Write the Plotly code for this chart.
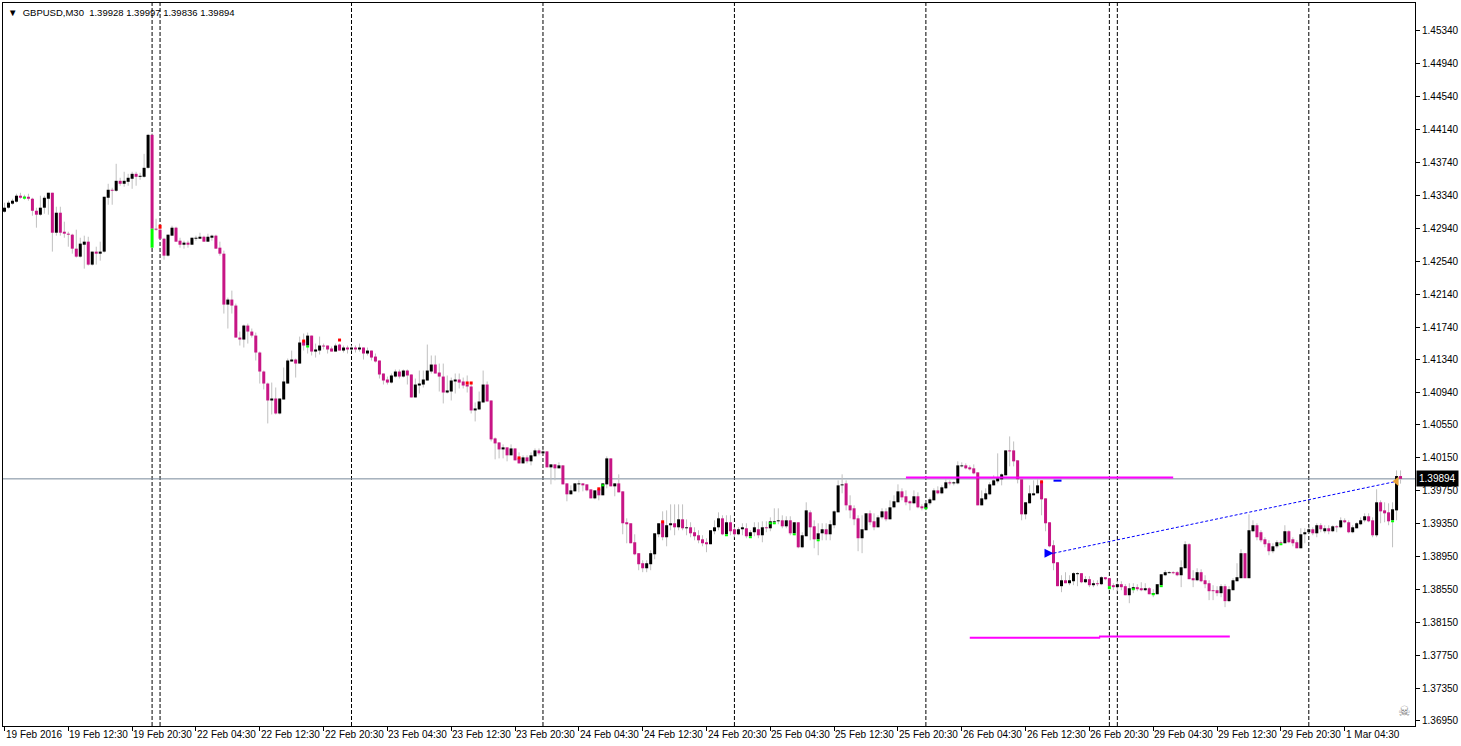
import plotly.graph_objects as go

# ---------------- data (GBPUSD M30, bars 0..350) ----------------
opens = [
1.43142,1.43191,1.43240,1.43264,1.43337,1.43312,1.43324,1.43300,1.43154,1.43106,
1.43191,1.43300,1.43373,1.42887,1.43130,1.42899,1.42875,1.42863,1.42693,1.42596,
1.42741,1.42778,1.42499,1.42657,1.42632,1.42657,1.43312,1.43409,1.43397,1.43518,
1.43482,1.43506,1.43543,1.43603,1.43567,1.43567,1.43676,1.44077,1.42936,1.42924,
1.42814,1.42608,1.42851,1.42948,1.42790,1.42741,1.42766,1.42741,1.42814,1.42814,
1.42838,1.42778,1.42826,1.42851,1.42705,1.42632,1.42013,1.42074,1.42001,1.41612,
1.41588,1.41758,1.41685,1.41636,1.41430,1.41199,1.41053,1.40847,1.40871,1.40689,
1.40859,1.41053,1.41321,1.41345,1.41296,1.41564,1.41515,1.41636,1.41442,1.41454,
1.41515,1.41515,1.41479,1.41442,1.41527,1.41454,1.41491,1.41467,1.41491,1.41467,
1.41491,1.41418,1.41454,1.41381,1.41333,1.41175,1.41102,1.41065,1.41138,1.41199,
1.41138,1.41211,1.41163,1.40884,1.41029,1.41041,1.41090,1.41199,1.41284,1.41187,
1.41138,1.40944,1.40956,1.41078,1.41102,1.41078,1.41041,1.41017,1.40726,1.40738,
1.40823,1.41041,1.40847,1.40386,1.40337,1.40252,1.40277,1.40180,1.40264,1.40143,
1.40082,1.40155,1.40107,1.40168,1.40240,1.40204,1.40228,1.40034,1.40070,1.40022,
1.40058,1.39839,1.39706,1.39742,1.39827,1.39839,1.39827,1.39766,1.39657,1.39766,
1.39694,1.39827,1.40143,1.39803,1.39839,1.39742,1.39366,1.39354,1.39123,1.38990,
1.38868,1.38807,1.38856,1.38977,1.39220,1.39366,1.39184,1.39330,1.39354,1.39305,
1.39402,1.39293,1.39305,1.39245,1.39208,1.39159,1.39123,1.39099,1.39257,1.39305,
1.39414,1.39220,1.39366,1.39281,1.39220,1.39281,1.39293,1.39196,1.39245,1.39281,
1.39208,1.39305,1.39293,1.39366,1.39378,1.39390,1.39317,1.39390,1.39232,1.39366,
1.39062,1.39196,1.39487,1.39317,1.39159,1.39232,1.39281,1.39220,1.39330,1.39487,
1.39815,1.39839,1.39572,1.39536,1.39414,1.39172,1.39269,1.39475,1.39378,1.39305,
1.39426,1.39499,1.39402,1.39548,1.39609,1.39742,1.39682,1.39621,1.39597,1.39682,
1.39560,1.39536,1.39597,1.39633,1.39754,1.39718,1.39779,1.39852,1.39839,1.39839,
1.40046,1.40058,1.40034,1.40022,1.39973,1.39572,1.39645,1.39706,1.39815,1.39864,
1.39888,1.39937,1.40240,1.40240,1.40119,1.39888,1.39463,1.39597,1.39694,1.39718,
1.39852,1.39657,1.39366,1.39087,1.38880,1.38589,1.38661,1.38625,1.38649,1.38735,
1.38747,1.38637,1.38674,1.38601,1.38625,1.38613,1.38698,1.38686,1.38601,1.38577,
1.38613,1.38589,1.38479,1.38552,1.38577,1.38564,1.38540,1.38564,1.38491,1.38491,
1.38601,1.38722,1.38747,1.38759,1.38759,1.38722,1.38807,1.39099,1.38686,1.38661,
1.38759,1.38661,1.38625,1.38540,1.38540,1.38504,1.38589,1.38407,1.38540,1.38649,
1.38686,1.38990,1.38686,1.39257,1.39330,1.39245,1.39159,1.39111,1.39014,1.39074,
1.39123,1.39111,1.39257,1.39159,1.39123,1.39050,1.39220,1.39245,1.39281,1.39232,
1.39330,1.39257,1.39293,1.39257,1.39317,1.39305,1.39390,1.39366,1.39245,1.39293,
1.39342,1.39390,1.39439,1.39390,1.39208,1.39609,1.39511,1.39487,1.39390,1.39511,
1.39928]

highs = [
1.43252,1.43276,1.43300,1.43361,1.43373,1.43349,1.43361,1.43312,1.43191,1.43337,
1.43337,1.43373,1.43373,1.43203,1.43203,1.43021,1.42899,1.42875,1.42924,1.42826,
1.42851,1.42838,1.42657,1.42717,1.42778,1.43324,1.43482,1.43434,1.43725,1.43555,
1.43628,1.43603,1.43628,1.43628,1.43616,1.43846,1.44089,1.44101,1.43057,1.42984,
1.42826,1.42863,1.42972,1.42960,1.42826,1.42790,1.42790,1.42826,1.42851,1.42887,
1.42851,1.42875,1.42863,1.42863,1.42778,1.42669,1.42098,1.42183,1.42025,1.41685,
1.41770,1.41782,1.41722,1.41673,1.41442,1.41211,1.41065,1.41065,1.41005,1.40871,
1.41248,1.41357,1.41454,1.41357,1.41624,1.41661,1.41673,1.41636,1.41539,1.41624,
1.41539,1.41515,1.41503,1.41539,1.41539,1.41515,1.41515,1.41515,1.41515,1.41539,
1.41491,1.41491,1.41454,1.41418,1.41333,1.41175,1.41138,1.41175,1.41224,1.41224,
1.41224,1.41224,1.41163,1.41114,1.41211,1.41211,1.41527,1.41394,1.41394,1.41296,
1.41296,1.41151,1.41126,1.41175,1.41175,1.41126,1.41151,1.41053,1.40823,1.40956,
1.41211,1.41078,1.40847,1.40398,1.40337,1.40313,1.40277,1.40313,1.40264,1.40216,
1.40180,1.40180,1.40216,1.40264,1.40264,1.40252,1.40228,1.40070,1.40070,1.40095,
1.40058,1.39839,1.39815,1.39839,1.39876,1.39839,1.39827,1.39766,1.39754,1.39766,
1.39839,1.40167,1.40143,1.39839,1.39949,1.39742,1.39414,1.39354,1.39220,1.38990,
1.38904,1.38904,1.39026,1.39232,1.39354,1.39499,1.39511,1.39584,1.39584,1.39584,
1.39584,1.39402,1.39366,1.39305,1.39269,1.39208,1.39172,1.39269,1.39390,1.39487,
1.39451,1.39451,1.39451,1.39305,1.39305,1.39354,1.39354,1.39269,1.39366,1.39366,
1.39378,1.39378,1.39426,1.39536,1.39536,1.39451,1.39439,1.39439,1.39366,1.39366,
1.39245,1.39609,1.39511,1.39390,1.39354,1.39354,1.39354,1.39390,1.39511,1.39876,
1.39949,1.39876,1.39694,1.39572,1.39451,1.39451,1.39475,1.39511,1.39475,1.39451,
1.39536,1.39536,1.39633,1.39694,1.39827,1.39779,1.39754,1.39633,1.39754,1.39730,
1.39584,1.39633,1.39669,1.39779,1.39803,1.39815,1.39888,1.39876,1.39864,1.40107,
1.40095,1.40082,1.40058,1.40070,1.39973,1.39754,1.39779,1.39852,1.39937,1.40204,
1.39961,1.40240,1.40410,1.40349,1.40119,1.39888,1.39609,1.39815,1.39876,1.39888,
1.39876,1.39657,1.39366,1.39147,1.38880,1.38722,1.38759,1.38722,1.38759,1.38759,
1.38747,1.38710,1.38710,1.38661,1.38661,1.38710,1.38698,1.38686,1.38625,1.38649,
1.38649,1.38613,1.38625,1.38625,1.38613,1.38637,1.38625,1.38577,1.38552,1.38613,
1.38734,1.38783,1.38771,1.38771,1.38771,1.38904,1.39135,1.39111,1.38783,1.38807,
1.38795,1.38722,1.38661,1.38601,1.38589,1.38613,1.38613,1.38589,1.38686,1.38868,
1.39038,1.38990,1.39463,1.39390,1.39354,1.39269,1.39184,1.39147,1.39111,1.39147,
1.39147,1.39330,1.39269,1.39184,1.39147,1.39293,1.39293,1.39305,1.39305,1.39354,
1.39354,1.39330,1.39330,1.39330,1.39330,1.39426,1.39414,1.39390,1.39330,1.39366,
1.39426,1.39475,1.39475,1.39426,1.39767,1.39633,1.39609,1.39597,1.39609,1.39997,
1.39997]

lows = [
1.43130,1.43179,1.43227,1.43252,1.43300,1.43288,1.43276,1.43093,1.42948,1.43093,
1.43118,1.43106,1.42657,1.42851,1.42851,1.42826,1.42717,1.42632,1.42584,1.42584,
1.42450,1.42487,1.42487,1.42499,1.42547,1.42645,1.43227,1.43227,1.43385,1.43458,
1.43446,1.43458,1.43421,1.43458,1.43531,1.43555,1.43664,1.42705,1.42911,1.42802,
1.42559,1.42596,1.42851,1.42778,1.42705,1.42693,1.42705,1.42741,1.42790,1.42814,
1.42778,1.42778,1.42790,1.42693,1.42608,1.41904,1.41722,1.41904,1.41612,1.41515,
1.41491,1.41539,1.41612,1.41333,1.41053,1.40981,1.40568,1.40677,1.40677,1.40677,
1.40859,1.41053,1.41321,1.41126,1.41296,1.41454,1.41418,1.41394,1.41369,1.41406,
1.41467,1.41418,1.41442,1.41442,1.41454,1.41430,1.41418,1.41454,1.41430,1.41442,
1.41345,1.41394,1.41333,1.41309,1.41114,1.41041,1.41041,1.41053,1.41126,1.41114,
1.41126,1.41041,1.40884,1.40884,1.40932,1.41005,1.41090,1.41175,1.41175,1.40956,
1.40811,1.40932,1.40847,1.40932,1.40993,1.40993,1.40944,1.40689,1.40592,1.40738,
1.40823,1.40835,1.40349,1.40131,1.40143,1.40143,1.40107,1.40180,1.40119,1.40082,
1.40082,1.40082,1.40058,1.40168,1.40180,1.40192,1.40034,1.39827,1.39876,1.40022,
1.39827,1.39621,1.39706,1.39742,1.39730,1.39742,1.39742,1.39657,1.39645,1.39633,
1.39694,1.39779,1.39803,1.39682,1.39730,1.39220,1.39111,1.39111,1.38965,1.38783,
1.38759,1.38759,1.38783,1.38917,1.39184,1.39147,1.39074,1.39269,1.39208,1.39269,
1.39269,1.39208,1.39184,1.39147,1.39111,1.39074,1.39002,1.39099,1.39220,1.39269,
1.39208,1.39208,1.39208,1.39184,1.39208,1.39208,1.39172,1.39184,1.39196,1.39172,
1.39123,1.39245,1.39257,1.39342,1.39342,1.39293,1.39293,1.39208,1.39208,1.39050,
1.39050,1.39196,1.39147,1.39050,1.38965,1.39147,1.39147,1.39147,1.39293,1.39487,
1.39718,1.39511,1.39414,1.39330,1.39014,1.38990,1.39269,1.39330,1.39269,1.39305,
1.39402,1.39378,1.39402,1.39536,1.39609,1.39633,1.39572,1.39511,1.39584,1.39536,
1.39511,1.39511,1.39572,1.39633,1.39706,1.39706,1.39767,1.39815,1.39815,1.39827,
1.40034,1.40010,1.39997,1.39949,1.39572,1.39572,1.39633,1.39694,1.39815,1.39839,
1.39815,1.39937,1.40046,1.40046,1.39839,1.39390,1.39402,1.39597,1.39694,1.39718,
1.39451,1.39257,1.39062,1.38783,1.38589,1.38516,1.38625,1.38601,1.38601,1.38589,
1.38625,1.38625,1.38577,1.38577,1.38589,1.38601,1.38661,1.38552,1.38540,1.38528,
1.38540,1.38479,1.38382,1.38504,1.38528,1.38528,1.38528,1.38491,1.38455,1.38491,
1.38601,1.38710,1.38747,1.38734,1.38710,1.38577,1.38807,1.38674,1.38577,1.38649,
1.38637,1.38564,1.38419,1.38419,1.38467,1.38455,1.38334,1.38394,1.38540,1.38649,
1.38686,1.38686,1.38686,1.39245,1.39147,1.39123,1.39062,1.38965,1.38990,1.39050,
1.39087,1.39111,1.39111,1.39074,1.39050,1.39050,1.39111,1.39232,1.39208,1.39184,
1.39245,1.39232,1.39220,1.39245,1.39245,1.39293,1.39354,1.39232,1.39232,1.39293,
1.39330,1.39366,1.39366,1.39184,1.39184,1.39354,1.39366,1.39330,1.39062,1.39390,
1.39836]

closes = [
1.43191,1.43252,1.43276,1.43337,1.43312,1.43324,1.43300,1.43154,1.43106,1.43191,
1.43312,1.43373,1.42887,1.43130,1.42887,1.42875,1.42863,1.42693,1.42596,1.42754,
1.42778,1.42499,1.42657,1.42632,1.42657,1.43324,1.43409,1.43397,1.43518,1.43482,
1.43518,1.43555,1.43603,1.43567,1.43579,1.43676,1.44077,1.42936,1.42924,1.42814,
1.42608,1.42863,1.42948,1.42778,1.42741,1.42766,1.42741,1.42826,1.42826,1.42838,
1.42778,1.42838,1.42851,1.42693,1.42632,1.42013,1.42074,1.42001,1.41612,1.41588,
1.41758,1.41685,1.41636,1.41430,1.41199,1.41053,1.40847,1.40871,1.40689,1.40871,
1.41078,1.41333,1.41345,1.41296,1.41552,1.41515,1.41636,1.41442,1.41467,1.41515,
1.41503,1.41467,1.41442,1.41515,1.41454,1.41491,1.41467,1.41491,1.41467,1.41491,
1.41418,1.41454,1.41369,1.41321,1.41163,1.41090,1.41065,1.41151,1.41199,1.41138,
1.41211,1.41151,1.40884,1.41041,1.41053,1.41102,1.41211,1.41284,1.41175,1.41138,
1.40944,1.40969,1.41090,1.41102,1.41065,1.41029,1.41017,1.40726,1.40750,1.40835,
1.41041,1.40835,1.40374,1.40325,1.40252,1.40277,1.40180,1.40264,1.40119,1.40082,
1.40155,1.40107,1.40180,1.40240,1.40204,1.40228,1.40034,1.40070,1.40022,1.40058,
1.39827,1.39706,1.39754,1.39839,1.39839,1.39815,1.39754,1.39657,1.39754,1.39694,
1.39839,1.40143,1.39803,1.39839,1.39730,1.39354,1.39342,1.39111,1.38977,1.38856,
1.38807,1.38868,1.38990,1.39232,1.39354,1.39184,1.39330,1.39354,1.39305,1.39402,
1.39293,1.39305,1.39232,1.39196,1.39147,1.39111,1.39099,1.39269,1.39305,1.39414,
1.39220,1.39366,1.39257,1.39220,1.39281,1.39305,1.39196,1.39245,1.39305,1.39208,
1.39305,1.39293,1.39378,1.39378,1.39390,1.39317,1.39390,1.39232,1.39366,1.39062,
1.39208,1.39511,1.39305,1.39159,1.39232,1.39281,1.39220,1.39342,1.39499,1.39815,
1.39827,1.39572,1.39511,1.39402,1.39172,1.39281,1.39475,1.39366,1.39305,1.39426,
1.39499,1.39402,1.39548,1.39621,1.39742,1.39669,1.39609,1.39597,1.39682,1.39548,
1.39536,1.39597,1.39645,1.39754,1.39718,1.39791,1.39852,1.39839,1.39852,1.40058,
1.40058,1.40022,1.40010,1.39961,1.39572,1.39657,1.39718,1.39827,1.39876,1.39900,
1.39949,1.40240,1.40228,1.40107,1.39888,1.39463,1.39609,1.39718,1.39718,1.39815,
1.39645,1.39354,1.39074,1.38868,1.38589,1.38661,1.38625,1.38661,1.38747,1.38747,
1.38637,1.38674,1.38601,1.38625,1.38613,1.38698,1.38674,1.38589,1.38577,1.38613,
1.38577,1.38479,1.38564,1.38577,1.38552,1.38540,1.38564,1.38491,1.38504,1.38613,
1.38734,1.38759,1.38759,1.38747,1.38722,1.38819,1.39099,1.38674,1.38661,1.38759,
1.38649,1.38613,1.38528,1.38528,1.38504,1.38589,1.38407,1.38552,1.38661,1.38698,
1.38990,1.38686,1.39269,1.39330,1.39184,1.39147,1.39099,1.39014,1.39074,1.39123,
1.39111,1.39257,1.39123,1.39111,1.39050,1.39220,1.39245,1.39281,1.39232,1.39330,
1.39281,1.39293,1.39257,1.39317,1.39305,1.39390,1.39366,1.39245,1.39305,1.39354,
1.39390,1.39439,1.39378,1.39208,1.39609,1.39499,1.39475,1.39378,1.39524,1.39928,
1.39894]

# time axis labels (every 16 bars)
label_bars = [0, 16, 32, 48, 64, 80, 96, 112, 128, 144, 160, 176, 192, 208, 224,
              240, 256, 272, 288, 304, 320, 336]
label_text = ["19 Feb 2016", "19 Feb 12:30", "19 Feb 20:30", "22 Feb 04:30", "22 Feb 12:30",
              "22 Feb 20:30", "23 Feb 04:30", "23 Feb 12:30", "23 Feb 20:30", "24 Feb 04:30",
              "24 Feb 12:30", "24 Feb 20:30", "25 Feb 04:30", "25 Feb 12:30", "25 Feb 20:30",
              "26 Feb 04:30", "26 Feb 12:30", "26 Feb 20:30", "29 Feb 04:30", "29 Feb 12:30",
              "29 Feb 20:30", "1 Mar 04:30"]
separator_bars = [37, 39, 87, 135, 183, 231, 277, 279, 327]

price_ticks = [1.45340, 1.44940, 1.44540, 1.44140, 1.43740, 1.43340, 1.42940, 1.42540,
               1.42140, 1.41740, 1.41340, 1.40940, 1.40550, 1.40150, 1.39750, 1.39350,
               1.38950, 1.38550, 1.38150, 1.37750, 1.37350, 1.36950]
price_tick_text = ["1.45340", "1.44940", "1.44540", "1.44140", "1.43740", "1.43340", "1.42940",
                   "1.42540", "1.42140", "1.41740", "1.41340", "1.40940", "1.40550", "1.40150",
                   "1.39750", "1.39350", "1.38950", "1.38550", "1.38150", "1.37750", "1.37350",
                   "1.36950"]
bid_price = 1.39894

# magenta horizontal levels
level_start = [226, 242, 274.4]
level_end = [293, 274.7, 307.2]
level_price = [1.39912, 1.37963, 1.37978]

# trend line (blue dotted) and arrows
trend_bars = [263, 349]
trend_prices = [1.38990, 1.39864]
blue_mark_bars = [263, 265]
blue_mark_price = 1.39872

# indicator marks
green_bars = [5, 37, 76, 150, 181, 187, 192, 193, 198, 204, 231, 277, 283, 288, 290, 320, 348]
green_top = [1.43324, 1.42936, 1.41515, 1.39827, 1.39220, 1.39196, 1.39366, 1.39366, 1.39232,
             1.39159, 1.39548, 1.38589, 1.38564, 1.38504, 1.38601, 1.39111, 1.39390]
green_bot = [1.43300, 1.42705, 1.41491, 1.39803, 1.39196, 1.39172, 1.39342, 1.39342, 1.39208,
             1.39135, 1.39524, 1.38552, 1.38540, 1.38479, 1.38577, 1.39087, 1.39366]
red_bars = [39, 75, 84, 116, 117, 129, 149, 165, 260]
red_top = [1.42984, 1.41588, 1.41600, 1.41078, 1.41078, 1.40167, 1.39791, 1.39390, 1.39876]
red_bot = [1.42936, 1.41552, 1.41564, 1.41041, 1.41041, 1.40131, 1.39754, 1.39354, 1.39839]

# ---------------- styling ----------------
PINK = "#C71585"
WICK = "#C0C0C0"
FONT = "Liberation Sans"
W, H = 1461, 746
ML, MR, MT, MB = 2, 43, 2, 20
BAR_PX = 4.0
plot_w = W - ML - MR
x_min = -1.5 / BAR_PX
x_max = x_min + plot_w / BAR_PX
y_min, y_max = 1.36889, 1.45680

n = len(closes)
fig = go.Figure()

# wicks
wx, wy = [], []
for i in range(n):
    wx += [i, i, None]
    wy += [lows[i], highs[i], None]
fig.add_trace(go.Scatter(x=wx, y=wy, mode="lines", line=dict(color=WICK, width=1),
                         hoverinfo="skip", showlegend=False))

# bodies
def body_segments(up):
    xs, ys = [], []
    for i in range(n):
        o, c = opens[i], closes[i]
        if (c >= o) != up:
            continue
        lo, hi = min(o, c), max(o, c)
        if hi - lo < 0.00010:
            m = (hi + lo) / 2
            lo, hi = m - 0.00006, m + 0.00006
        xs += [i, i, None]
        ys += [lo, hi, None]
    return xs, ys

bx, by = body_segments(True)
fig.add_trace(go.Scatter(x=bx, y=by, mode="lines", line=dict(color="black", width=3),
                         hoverinfo="skip", showlegend=False))
px_, py_ = body_segments(False)
fig.add_trace(go.Scatter(x=px_, y=py_, mode="lines", line=dict(color=PINK, width=3),
                         hoverinfo="skip", showlegend=False))

# indicator marks
def marks(bars, tops, bots):
    xs, ys = [], []
    for b, t, d in zip(bars, tops, bots):
        xs += [b, b, None]
        ys += [d, t, None]
    return xs, ys

gx, gy = marks(green_bars, green_top, green_bot)
fig.add_trace(go.Scatter(x=gx, y=gy, mode="lines", line=dict(color="#00FF00", width=3),
                         hoverinfo="skip", showlegend=False))
rx, ry = marks(red_bars, red_top, red_bot)
fig.add_trace(go.Scatter(x=rx, y=ry, mode="lines", line=dict(color="#FF0000", width=3),
                         hoverinfo="skip", showlegend=False))

# trend line and arrows
fig.add_trace(go.Scatter(x=trend_bars, y=trend_prices, mode="lines",
                         line=dict(color="#0000FF", width=1, dash="3px,2px"),
                         hoverinfo="skip", showlegend=False))
fig.add_trace(go.Scatter(x=blue_mark_bars, y=[blue_mark_price] * 2, mode="lines",
                         line=dict(color="#0000FF", width=2), hoverinfo="skip", showlegend=False))
fig.add_trace(go.Scatter(x=[trend_bars[0]], y=[trend_prices[0]], mode="markers",
                         marker=dict(symbol="arrow-right", size=9, color="#0000FF"),
                         hoverinfo="skip", showlegend=False))
fig.add_trace(go.Scatter(x=[trend_bars[1]], y=[trend_prices[1]], mode="markers",
                         marker=dict(symbol="triangle-left", size=8, color="#E8A33C"),
                         hoverinfo="skip", showlegend=False))

shapes = []
for b in separator_bars:
    shapes.append(dict(type="line", xref="x", yref="paper", x0=b, x1=b, y0=0, y1=1,
                       line=dict(color="black", width=1, dash="4px,2px"), layer="below"))
shapes.append(dict(type="line", xref="paper", yref="y", x0=0, x1=1, y0=bid_price, y1=bid_price,
                   line=dict(color="#778899", width=1), layer="below"))
for s, e, p in zip(level_start, level_end, level_price):
    shapes.append(dict(type="line", xref="x", yref="y", x0=s, x1=e, y0=p, y1=p,
                       line=dict(color="#FF00FF", width=2), layer="above"))

annotations = []
for b, t in zip(label_bars, label_text):
    annotations.append(dict(x=b, y=0, xref="x", yref="paper", text=t, showarrow=False,
                            xanchor="left", yanchor="top", xshift=-1, yshift=-1,
                            font=dict(family=FONT, size=10, color="black")))
annotations.append(dict(x=0, y=1, xref="paper", yref="paper", xshift=3, yshift=-2,
                        text="▼  GBPUSD,M30  1.39928 1.39997 1.39836 1.39894", showarrow=False,
                        xanchor="left", yanchor="top",
                        font=dict(family=FONT, size=9.5, color="black")))
annotations.append(dict(x=1, y=bid_price, xref="paper", yref="y", text="1.39894", showarrow=False,
                        xanchor="left", yanchor="middle", xshift=1, bgcolor="black",
                        borderpad=2, font=dict(family=FONT, size=10, color="white")))
annotations.append(dict(x=0.9925, y=0.021, xref="paper", yref="paper", text="☠", showarrow=False,
                        xanchor="center", yanchor="middle",
                        font=dict(family="DejaVu Sans", size=14, color="#808080")))

fig.update_layout(
    width=W, height=H, autosize=False,
    margin=dict(l=ML, r=MR, t=MT, b=MB, pad=0),
    paper_bgcolor="white", plot_bgcolor="white",
    showlegend=False, hovermode=False,
    shapes=shapes, annotations=annotations,
    xaxis=dict(range=[x_min, x_max], showgrid=False, zeroline=False, showline=True,
               linecolor="black", linewidth=1, mirror=True, ticks="outside", ticklen=4,
               tickcolor="black", tickvals=label_bars, showticklabels=False, fixedrange=True),
    yaxis=dict(range=[y_min, y_max], side="right", showgrid=False, zeroline=False,
               showline=True, linecolor="black", linewidth=1, mirror=True, ticks="outside",
               ticklen=4, tickcolor="black", tickvals=price_ticks, ticktext=price_tick_text,
               tickfont=dict(family=FONT, size=10, color="black"), fixedrange=True),
)

fig.write_html("out.html", config={"displayModeBar": False},
               post_script="document.body.style.margin='0';document.body.style.overflow='hidden';")
